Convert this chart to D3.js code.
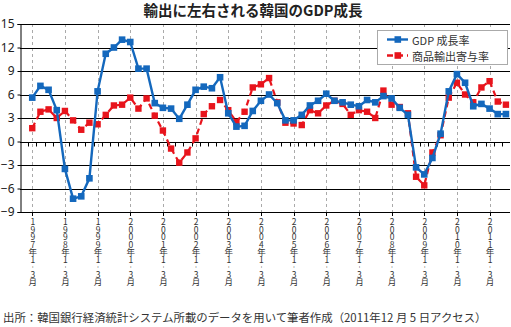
<!DOCTYPE html>
<html><head><meta charset="utf-8">
<script src="https://cdn.jsdelivr.net/npm/d3@7"></script>
<style>
body{margin:0;background:#fff;}
text{font-family:"Noto Sans CJK JP","Noto Sans",sans-serif;}
.vlab{writing-mode:vertical-rl;text-orientation:upright;}
</style></head>
<body><svg id="c" width="511" height="327"></svg>
<script>
const years = ["1997","1998","1999","2000","2001","2002","2003","2004","2005","2006","2007","2008","2009","2010","2011"];
const quarterLabel = "年1︲3月";
const gdpGrowth = [
  5.6, 7.1, 6.6, 4.0,
  -3.5, -7.3, -7.0, -4.7,
  6.4, 11.2, 12.0, 13.0,
  12.7, 9.3, 9.3, 4.9,
  4.3, 4.2, 2.9, 4.7,
  6.6, 7.0, 6.8, 8.2,
  3.6, 1.9, 2.0, 3.9,
  5.2, 6.0, 4.9, 2.7,
  2.7, 3.4, 4.6, 5.2,
  6.1, 5.2, 5.0, 4.7,
  4.5, 5.3, 5.0, 5.8,
  5.5, 4.3, 3.4, -3.3,
  -4.2, -2.1, 1.0, 6.4,
  8.6, 7.5, 4.5, 4.8,
  4.2, 3.5, 3.5
];
const exportContribution = [
  1.7, 3.8, 4.1, 3.0,
  3.9, 2.7, 1.5, 2.4,
  2.2, 3.4, 4.6, 4.7,
  5.6, 4.2, 5.5, 3.3,
  1.4, -0.9, -2.7, -1.4,
  0.4, 3.5, 4.5, 5.3,
  4.0, 2.5, 3.8, 6.9,
  7.3, 8.1, 5.0, 2.4,
  2.3, 2.1, 4.0, 3.6,
  4.6, 5.2, 4.8, 3.4,
  4.0, 3.8, 3.0, 6.5,
  4.7, 4.4, 3.6, -4.5,
  -5.6, -1.4, 0.8, 5.6,
  7.5, 6.0, 5.0, 6.9,
  7.7, 5.1, 4.7
];
const yTicks = [-9,-6,-3,0,3,6,9,12,15];
const seriesNames = ["GDP 成長率","商品輸出寄与率"];
const title = "輸出に左右される韓国のGDP成長";
const source = "出所：韓国銀行経済統計システム所載のデータを用いて筆者作成（2011年12 月 5 日アクセス）";

const svg = d3.select("#c");
const L = 20, R = 510, T = 24, B = 212;
const n = gdpGrowth.length;
const x = d3.scaleLinear().domain([-1.5, n - 0.5]).range([L, R]);
const y = d3.scaleLinear().domain([-9, 15]).range([B, T]);
const idx = d3.range(n);
const yearIdx = years.map((_, k) => k * 4);

// title
svg.append("text").attr("x", 253).attr("y", 16).attr("text-anchor", "middle")
  .attr("font-size", 14.5).attr("font-weight", "bold").attr("fill", "#222").text(title);

// vertical dashed grid
svg.append("g").selectAll("line").data(yearIdx).join("line")
  .attr("x1", d => Math.round(x(d)) + 0.5).attr("x2", d => Math.round(x(d)) + 0.5)
  .attr("y1", T).attr("y2", B)
  .attr("stroke", "#aaa").attr("stroke-dasharray", "3,3").attr("stroke-width", 1);

// horizontal grid
svg.append("g").selectAll("line").data(yTicks).join("line")
  .attr("x1", L).attr("x2", R)
  .attr("y1", d => Math.round(y(d)) + 0.5).attr("y2", d => Math.round(y(d)) + 0.5)
  .attr("stroke", "#000").attr("stroke-width", 1);

// y axis
const ya = svg.append("g").attr("transform", `translate(${L + 0.5},0)`)
  .call(d3.axisLeft(y).tickValues(yTicks).tickSize(3).tickPadding(3));
ya.select(".domain").attr("stroke", "#000");
ya.selectAll("text").attr("font-size", 12).attr("fill", "#222")
  .style("font-family", "'Noto Sans','DejaVu Sans',sans-serif");

// quarter ticks under zero line (category boundaries)
const bounds = d3.range(-0.5, n - 0.5, 1);
svg.append("g").selectAll("line").data(bounds).join("line")
  .attr("x1", d => Math.round(x(d)) + 0.5).attr("x2", d => Math.round(x(d)) + 0.5)
  .attr("y1", Math.round(y(0))).attr("y2", Math.round(y(0)) + 4.5)
  .attr("stroke", "#000");

// bottom year ticks
svg.append("g").selectAll("line").data(yearIdx).join("line")
  .attr("x1", d => Math.round(x(d)) + 0.5).attr("x2", d => Math.round(x(d)) + 0.5)
  .attr("y1", Math.round(y(-9))).attr("y2", Math.round(y(-9)) + 4)
  .attr("stroke", "#000");

// x labels (vertical text)
svg.append("g").selectAll("text").data(years).join("text")
  .attr("class", "vlab")
  .attr("x", (d, k) => x(k * 4) + 0.5).attr("y", 218)
  .attr("font-size", 8.5).attr("letter-spacing", -1).attr("fill", "#333")
  .text(d => d + quarterLabel);

// lines
const redC = "#e8141c", blueC = "#1468bd";
const line = arr => d3.line().x(i => x(i)).y(i => y(arr[i]))(idx);
svg.append("path").attr("d", line(exportContribution)).attr("fill", "none")
  .attr("stroke", redC).attr("stroke-width", 2.2).attr("stroke-dasharray", "6,4");
svg.append("g").selectAll("rect").data(idx).join("rect")
  .attr("x", i => x(i) - 3.2).attr("y", i => y(exportContribution[i]) - 3.2)
  .attr("width", 6.4).attr("height", 6.4).attr("fill", redC);
svg.append("path").attr("d", line(gdpGrowth)).attr("fill", "none")
  .attr("stroke", blueC).attr("stroke-width", 2.4);
svg.append("g").selectAll("rect").data(idx).join("rect")
  .attr("x", i => x(i) - 3.3).attr("y", i => y(gdpGrowth[i]) - 3.3)
  .attr("width", 6.6).attr("height", 6.6).attr("fill", blueC);

// legend
const leg = svg.append("g");
leg.append("rect").attr("x", 377.5).attr("y", 30.5).attr("width", 130).attr("height", 34)
  .attr("fill", "#fff").attr("stroke", "#aaa");
[[blueC, null], [redC, "6,4"]].forEach(([c, dash], k) => {
  const ly = 39.5 + k * 16;
  leg.append("line").attr("x1", 387).attr("x2", 408).attr("y1", ly).attr("y2", ly)
    .attr("stroke", c).attr("stroke-width", 2.4).attr("stroke-dasharray", dash);
  leg.append("rect").attr("x", 394.5).attr("y", ly - 3.3).attr("width", 6.6).attr("height", 6.6).attr("fill", c);
  leg.append("text").attr("x", 412).attr("y", ly).attr("dominant-baseline", "central")
    .attr("font-size", 11).attr("fill", "#333").text(seriesNames[k]);
});

// source
svg.append("text").attr("x", 3).attr("y", 322).attr("font-size", 11.4).attr("fill", "#333").text(source);
</script></body></html>
